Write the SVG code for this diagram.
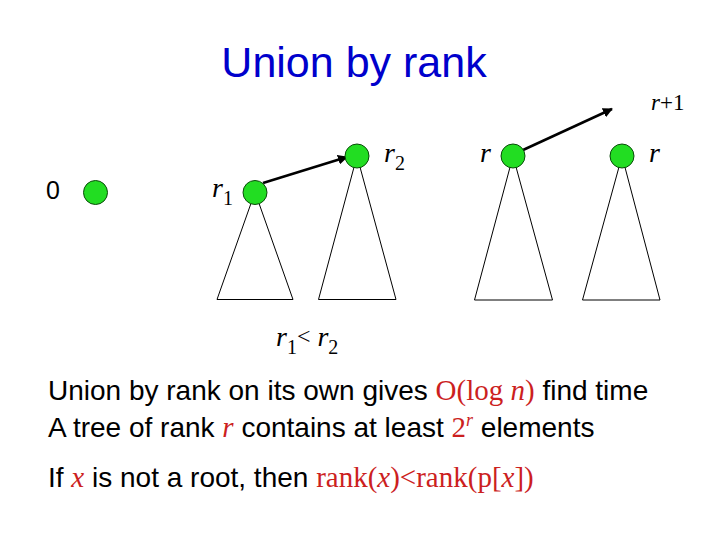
<svg xmlns="http://www.w3.org/2000/svg" width="720" height="540" viewBox="0 0 720 540">
  <style>
    .node { fill: #22dd22; stroke: #0a4a0a; stroke-width: 1; }
    .tree { fill: none; stroke: #000; stroke-width: 1; }
    .edge { stroke: #000; stroke-width: 2.5; fill: none; }
    .lbl { font-family: "Liberation Serif", serif; font-style: italic; font-size: 28px; fill: #000; }
    .sub { font-style: normal; font-size: 20px; }
    .sans { font-family: "Liberation Sans", Arial, sans-serif; fill: #000; }
    .body { font-size: 28px; }
    .red { font-family: "Liberation Serif", serif; fill: #cc1f1f; font-size: 29px; }
    .it { font-style: italic; }
  </style>
  <defs>
    <marker id="arrow" viewBox="0 0 10 10" refX="9" refY="5" markerWidth="4" markerHeight="4" orient="auto" markerUnits="strokeWidth">
      <path d="M0,0 L10,5 L0,10 z" fill="#000"/>
    </marker>
  </defs>
  <rect width="720" height="540" fill="#fff"/>

  <text x="354" y="77" text-anchor="middle" style="font-family:'Liberation Sans', Arial, sans-serif; font-size:43px" fill="#0000cc">Union by rank</text>

  <g id="connectors">
    <line class="edge" x1="263" y1="183" x2="347" y2="157" marker-end="url(#arrow)"/>
    <line class="edge" x1="523" y1="150" x2="612" y2="109" marker-end="url(#arrow)"/>
  </g>

  <g id="node-0">
    <text x="46" y="199" class="sans" style="font-size:25px">0</text>
    <circle class="node" cx="95.5" cy="192.5" r="12"/>
  </g>

  <g id="node-r1">
    <polygon class="tree" points="255,192 217,299.5 293,299.5"/>
    <circle class="node" cx="255" cy="192.5" r="12"/>
    <text x="212" y="197" class="lbl">r<tspan class="sub" dy="8">1</tspan></text>
  </g>

  <g id="node-r2">
    <polygon class="tree" points="357,156 318.5,299.5 396,299.5"/>
    <circle class="node" cx="357" cy="156" r="12"/>
    <text x="384" y="162" class="lbl">r<tspan class="sub" dy="8">2</tspan></text>
  </g>

  <g id="node-r-left">
    <polygon class="tree" points="513,156 474.5,300 552.5,300"/>
    <circle class="node" cx="513" cy="156" r="12"/>
    <text x="480" y="162" class="lbl">r</text>
  </g>

  <g id="node-r-right">
    <polygon class="tree" points="622,156 582.5,300 660,300"/>
    <circle class="node" cx="622" cy="156" r="12"/>
    <text x="649" y="162" class="lbl">r</text>
  </g>

  <text x="651" y="110" style="font-family:'Liberation Serif', serif; font-size:23px" fill="#000"><tspan font-style="italic">r</tspan>+1</text>

  <text x="276" y="346" class="lbl">r<tspan class="sub" dy="8">1</tspan><tspan font-style="normal" style="font-size:24px" dy="-10">&lt;</tspan><tspan dy="2"> r</tspan><tspan class="sub" dy="8">2</tspan></text>

  <text x="48" y="400" class="sans body">Union by rank on its own gives <tspan class="red">O(log <tspan class="it">n</tspan>)</tspan> find time</text>
  <text x="48" y="437" class="sans body">A tree of rank <tspan class="red it">r</tspan> contains at least <tspan class="red">2</tspan><tspan class="red it" style="font-size:18px" dy="-11">r</tspan><tspan dy="11"> elements</tspan></text>
  <text x="48" y="487" class="sans body">If <tspan class="red it">x</tspan> is not a root, then <tspan class="red">rank(<tspan class="it">x</tspan>)&lt;rank(p[<tspan class="it">x</tspan>])</tspan></text>
</svg>
